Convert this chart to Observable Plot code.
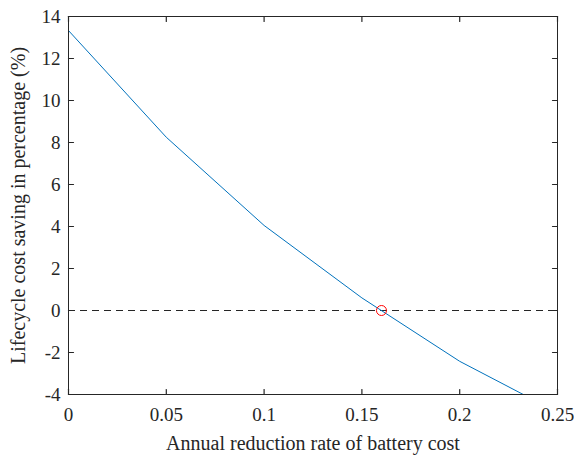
<!DOCTYPE html>
<html>
<head>
<meta charset="utf-8">
<script src="https://cdn.jsdelivr.net/npm/d3@7"></script>
<script src="https://cdn.jsdelivr.net/npm/@observablehq/plot@0.6"></script>
<style>
  html, body { margin: 0; padding: 0; background: #fff; }
  #chart svg { display: block; }
</style>
</head>
<body>
<div id="chart"></div>
<script>
// Data
const rates = [0, 0.05, 0.1, 0.15, 0.2, 0.25];
const savings = [13.33, 8.25, 4.05, 0.6, -2.42, -4.85];
const breakEvenRate = [0.16];
const breakEvenSaving = [0];
const xTicks = [0, 0.05, 0.1, 0.15, 0.2, 0.25];
const xTickLabels = ["0", "0.05", "0.1", "0.15", "0.2", "0.25"];
const yTicks = [-4, -2, 0, 2, 4, 6, 8, 10, 12, 14];
const yTickLabels = ["-4", "-2", "0", "2", "4", "6", "8", "10", "12", "14"];
const xLabel = "Annual reduction rate of battery cost";
const yLabel = "Lifecycle cost saving in percentage (%)";

const lineData = rates.map((r, i) => ({rate: r, saving: savings[i]}));
const pointData = breakEvenRate.map((r, i) => ({rate: r, saving: breakEvenSaving[i]}));
const xFmt = d => xTickLabels[xTicks.indexOf(d)];
const yFmt = d => yTickLabels[yTicks.indexOf(d)];
const serif = "Liberation Serif";
const tickShape = {draw(context, l) { context.moveTo(0, 0); context.lineTo(0, -l); }};
const ink = "#262626";

const chart = Plot.plot({
  width: 574,
  height: 456,
  marginLeft: 68,
  marginRight: 17,
  marginTop: 16,
  marginBottom: 62,
  style: {fontFamily: serif, fontSize: "19px", color: ink, background: "#fff"},
  x: {domain: [0, 0.25]},
  y: {domain: [-4, 14]},
  marks: [
    Plot.ruleY([0], {stroke: ink, strokeWidth: 1, strokeDasharray: "7,5"}),
    Plot.line(lineData, {x: "rate", y: "saving", stroke: "#0072BD", strokeWidth: 1, clip: true}),
    Plot.dot(pointData, {x: "rate", y: "saving", r: 5, stroke: "#ff0000", fill: "none", strokeWidth: 1}),
    // inward ticks on all four sides (MATLAB style)
    Plot.vector(xTicks, {x: d => d, frameAnchor: "bottom", length: 5, rotate: 0, anchor: "start", shape: tickShape, stroke: ink, strokeWidth: 1.2}),
    Plot.vector(xTicks, {x: d => d, frameAnchor: "top", length: 5, rotate: 180, anchor: "start", shape: tickShape, stroke: ink, strokeWidth: 1.2}),
    Plot.vector(yTicks, {y: d => d, frameAnchor: "left", length: 5, rotate: 90, anchor: "start", shape: tickShape, stroke: ink, strokeWidth: 1.2}),
    Plot.vector(yTicks, {y: d => d, frameAnchor: "right", length: 5, rotate: -90, anchor: "start", shape: tickShape, stroke: ink, strokeWidth: 1.2}),
    Plot.frame({stroke: ink, strokeWidth: 1}),
    Plot.axisX({anchor: "bottom", ticks: xTicks, tickFormat: xFmt, tickSize: 0, tickPadding: 13, label: xLabel, labelAnchor: "center", labelArrow: "none", labelOffset: 55, fontFamily: serif, fontSize: 19}),
    Plot.axisY({anchor: "left", ticks: yTicks, tickFormat: yFmt, tickSize: 0, tickPadding: 8, label: yLabel, labelAnchor: "center", labelArrow: "none", labelOffset: 58, fontFamily: serif, fontSize: 19})
  ]
});
chart.querySelectorAll("g[aria-label='x-axis label'], g[aria-label='y-axis label']").forEach(g => {
  g.setAttribute("font-size", "20");
});
document.getElementById("chart").appendChild(chart);
</script>
</body>
</html>
